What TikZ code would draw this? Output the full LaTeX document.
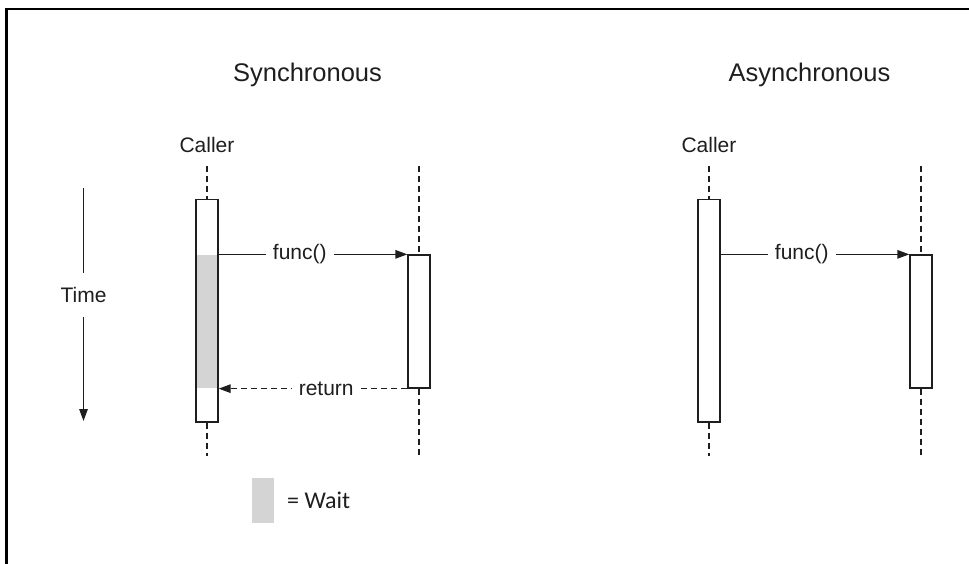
\documentclass[tikz,border=0pt]{standalone}
\usepackage{fontspec}
\setmainfont{Liberation Sans}
\newfontfamily\waitfont{Carlito}
\usetikzlibrary{arrows.meta}
\definecolor{waitgray}{HTML}{D4D4D4}
\definecolor{inkc}{HTML}{1E1E1E}
\begin{document}
\begin{tikzpicture}[x=1pt,y=-1pt,
  ln/.style={draw=inkc, line width=1.3pt},
  actbox/.style={ln, rectangle, minimum width=22pt, inner sep=0pt},
  graybox/.style={fill=waitgray, rectangle, minimum width=22pt, inner sep=0pt},
  life/.style={draw=inkc, line width=1.2pt, dash pattern=on 6pt off 4pt},
  msg/.style={ln, -{Triangle[length=12pt,width=8.5pt]}},
  lbl/.style={font=\fontsize{21}{24}\selectfont, text=inkc},
  title/.style={font=\fontsize{25.5}{30}\selectfont, text=inkc},
  gap/.style={lbl, fill=white, inner xsep=7pt, inner ysep=2pt}
]
\useasboundingbox (0,0) rectangle (969,564);
% frame
\draw[line width=2.6pt, draw=black] (6.7,564) -- (6.7,9) -- (969,9);

% titles
\node[title, anchor=base] (syn) at (307.5,82) {Synchronous};
\node[title, anchor=base] (asyn) at (809.5,82) {Asynchronous};
\node[lbl, anchor=base] (callerA) at (207,152.5) {Caller};
\node[lbl, anchor=base] (callerB) at (709,152.5) {Caller};

% synchronous
\node[graybox, minimum height=133pt] (wait) at (207,321.5) {};
\node[actbox, minimum height=222.5pt] (sc) at (207,310.75) {};
\node[actbox, minimum height=133pt] (sr) at (419,321.5) {};
\coordinate (scTop) at (207,166);
\coordinate (scBot) at (207,456);
\coordinate (srTop) at (419,166);
\coordinate (srBot) at (419,456);
\draw[life] (scTop) -- (sc.north);
\draw[life] (sc.south) -- (scBot);
\draw[life] (srTop) -- (sr.north);
\draw[life] (sr.south) -- (srBot);
\draw[msg] (sc.east |- sr.north) -- (sr.north west) node[gap, pos=0.43] (f1) {func()};
\draw[msg, dash pattern=on 6pt off 4pt] (sr.south west) -- (sc.east |- sr.south) node[gap, pos=0.43] (ret) {return};

% asynchronous
\node[actbox, minimum height=222.5pt] (ac) at (709,310.75) {};
\node[actbox, minimum height=133pt] (ar) at (921,321.5) {};
\coordinate (acTop) at (709,166);
\coordinate (acBot) at (709,456);
\coordinate (arTop) at (921,166);
\coordinate (arBot) at (921,456);
\draw[life] (acTop) -- (ac.north);
\draw[life] (ac.south) -- (acBot);
\draw[life] (arTop) -- (ar.north);
\draw[life] (ar.south) -- (arBot);
\draw[msg] (ac.east |- ar.north) -- (ar.north west) node[gap, pos=0.43] (f2) {func()};

% time axis
\coordinate (t0) at (83.5,188);
\coordinate (t1) at (83.5,421);
\draw[msg] (t0) -- (t1) node[lbl, fill=white, inner xsep=2pt, inner ysep=14pt, pos=0.46] (time) {Time};

% legend
\node[graybox, minimum height=45pt] (wl) at (263,500) {};
\node[lbl, anchor=base west, inner sep=0pt, font=\waitfont\fontsize{24}{28}\selectfont] (wt) at (287,508) {= Wait};
\end{tikzpicture}
\end{document}
